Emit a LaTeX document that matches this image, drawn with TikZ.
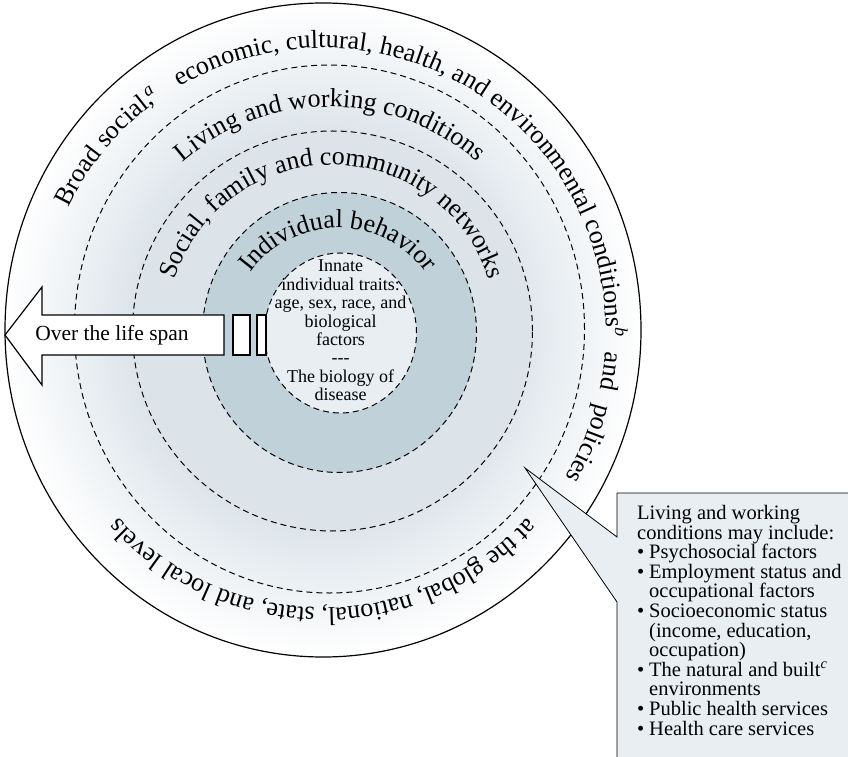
\documentclass[tikz,border=0pt]{standalone}
\usepackage{fontspec}
\setmainfont{Liberation Serif}
\usetikzlibrary{decorations.text,calc}

\definecolor{ringpale}{HTML}{DCE4EA}
\definecolor{ringsoc}{HTML}{DCE4EA}
\definecolor{ringind}{HTML}{C0D1DA}
\definecolor{corefill}{HTML}{E9EEF2}
\definecolor{notefill}{HTML}{E9EEF2}

% pale glow that fades out to white at the rim
\pgfdeclareradialshading{ringglow}{\pgfpointorigin}{color(0bp)=(ringpale); color(15bp)=(ringpale); color(25bp)=(white); color(50bp)=(white)}

\newcommand\ringfont{\fontsize{26}{26}\selectfont}
\newcommand\itm{\makebox[12pt][l]{\textbullet}}
\newcommand\cnt{\hspace*{12pt}}

\begin{document}
\begin{tikzpicture}[x=1pt,y=1pt,
    ringline/.style={dash pattern=on 6pt off 4pt, line width=1pt},
    ringtext/.style={decorate,decoration={text along path,text align=center,text={|\ringfont|#1}}}]
  \useasboundingbox (0,0) rectangle (848,756);
  \clip (0,0) rectangle (848,756);

  % ring centres
  \coordinate (oc) at (323,426);
  \coordinate (lc) at (329.5,427);
  \coordinate (sc) at (332.5,425);
  \coordinate (ic) at (339.5,423.5);
  \coordinate (cc) at (340.5,423);

  % fills, outside in
  \shade[shading=ringglow] (oc) ellipse [x radius=318, y radius=327];
  \fill[ringsoc] (sc) circle (200);
  \fill[ringind] (ic) ellipse [x radius=137, y radius=140];
  \fill[corefill] (cc) ellipse [x radius=76, y radius=80];

  % ring borders
  \draw[ringline] (lc) ellipse [x radius=255, y radius=264];
  \draw[ringline] (sc) circle (200);
  \draw[ringline] (ic) ellipse [x radius=137, y radius=140];
  \draw[ringline] (cc) ellipse [x radius=76, y radius=80];
  \draw[line width=1.2pt] (oc) ellipse [x radius=318, y radius=327];

  % curved labels
  \path[ringtext={Broad social,{\hspace{-3pt}\textsuperscript{\itshape a}}{\hspace{16pt}} economic, cultural, health, and environmental conditions{\textsuperscript{\itshape b}}{\hspace{8pt}} and{\hspace{8pt}} policies}]
    ($(323,425)+(200:283)$) arc[start angle=200, end angle=-77, radius=283];
  \path[ringtext={at the global, national, state, and local levels}]
    ($(323,425)+(-10:277)$) arc[start angle=-10, end angle=-170, radius=277];
  \path[ringtext={Living and working conditions}]
    ($(330,425)+(170:224)$) arc[start angle=170, end angle=10, radius=224];
  \path[ringtext={Social, family and community networks}]
    ($(332,426)+(175:165)$) arc[start angle=175, end angle=5, radius=165];
  \path[ringtext={Individual behavior}]
    ($(338,420)+(170:108)$) arc[start angle=170, end angle=10, radius=108];

  \node[align=center, inner sep=0, font=\fontsize{18}{18.4}\selectfont] (core) at (340.5,425.5)
    {Innate\\individual traits:\\age, sex, race, and\\biological\\factors\\-{}-{}-\\The biology of\\disease};

  % life span arrow
  \draw[fill=white, line width=1.2pt] (5,421) -- (42,469) -- (42,441) -- (224,441)
    -- (224,401) -- (42,401) -- (42,371) -- cycle;
  \draw[fill=white, line width=1.2pt] (233,401) rectangle (250,441);
  \draw[fill=white, line width=1.2pt] (257,401) rectangle (266,441);
  \node[font=\fontsize{21.5}{24}\selectfont] (span) at (112,421) {Over the life span};

  % callout
  \coordinate (tip) at (525,288);
  \draw[fill=notefill, line width=0.8pt] (852,263) -- (617,263) -- (617,219) -- (tip)
    -- (617,154) -- (617,-5) -- (852,-5) -- cycle;
  \node[anchor=north west, inner sep=0, align=left, font=\fontsize{20.5}{19.6}\selectfont] (notes) at (637,251)
    {Living and working\\conditions may include:\\
     \itm Psychosocial factors\\
     \itm Employment status and\\\cnt occupational factors\\
     \itm Socioeconomic status\\\cnt (income, education,\\\cnt occupation)\\
     \itm The natural and built\textsuperscript{\itshape c}\\\cnt environments\\
     \itm Public health services\\
     \itm Health care services};
\end{tikzpicture}
\end{document}
